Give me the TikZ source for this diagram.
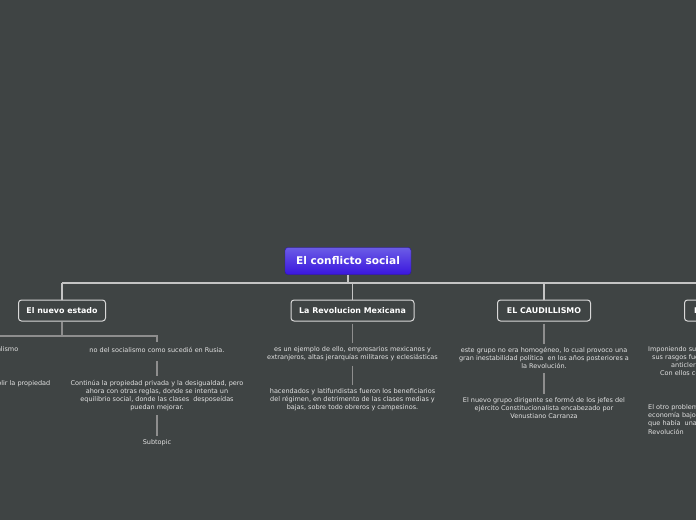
\documentclass[tikz,border=0pt]{standalone}
\usepackage{fontspec}
\setmainfont{DejaVu Sans}
\definecolor{bg}{HTML}{3F4444}
\definecolor{rootA}{HTML}{6B5CE6}
\definecolor{rootB}{HTML}{3A16DE}
\definecolor{mainline}{HTML}{C4C4C4}
\definecolor{subline}{HTML}{8E8E8E}
\definecolor{boxline}{HTML}{D8D8D8}
\definecolor{txt}{HTML}{E2E2E2}
\tikzset{
  rootbox/.style={rectangle, rounded corners=3pt, top color=rootA, bottom color=rootB, draw=rootB!80!black, line width=0.4pt,
    minimum width=126, minimum height=27, text=white, font=\fontsize{10.6}{12}\selectfont\bfseries, inner sep=0pt},
  topicbox/.style={rectangle, rounded corners=3pt, fill=bg, draw=boxline, line width=1pt,
    minimum height=21, text=white, font=\fontsize{7.9}{9}\selectfont\bfseries, inner sep=0pt},
  subtext/.style={align=center, text=txt, font=\fontsize{6.5}{8}\selectfont, inner sep=2pt},
  lefttext/.style={align=left, text=txt, font=\fontsize{6.5}{8}\selectfont, inner sep=0pt},
  mainconn/.style={draw=mainline, line width=1.5pt},
  subconn/.style={draw=subline, line width=1.4pt},
}
\begin{document}
\begin{tikzpicture}[x=1pt,y=-1pt]
\useasboundingbox (0,0) rectangle (696,520);
\fill[bg] (0,0) rectangle (696,520);
\clip (0,0) rectangle (696,520);

% root and main topics
\node[rootbox] (root) at (348,261) {El conflicto social};
\node[topicbox, minimum width=87] (n1) at (62,310.5) {El nuevo estado};
\node[topicbox, minimum width=123] (n2) at (352.5,310.5) {La Revolucion Mexicana};
\node[topicbox, minimum width=93] (n3) at (544,310.5) {EL CAUDILLISMO};
\node[topicbox, minimum width=110, anchor=west, text width=100, align=left] (n4) at (684,310.5) {\hspace*{4.5pt}El Estado};

\coordinate (hub) at (348,283);
\coordinate (h1) at (62,283);
\coordinate (h2) at (352.5,283);
\coordinate (h3) at (544,283);
\coordinate (hr) at (700,283);
\draw[mainconn] (root.south) -- (hub);
\draw[mainconn] (h1) -- (hr);
\draw[mainconn] (h1) -- (n1.north);
\draw[mainconn] (h2) -- (n2.north);
\draw[mainconn] (h3) -- (n3.north);

% El nuevo estado
\node[subtext, anchor=east, inner sep=0pt] (t11) at (18.5,350) {capitalismo};
\node[subtext, anchor=east, inner sep=0pt] (t11b) at (50.5,383.7) {abolir la propiedad};
\node[subtext] (t12) at (157,350) {no del socialismo como sucedió en Rusia.};
\node[subtext] (t13) at (157,396) {Continúa la propiedad privada y la desigualdad, pero\\ahora con otras reglas, donde se intenta un\\equilibrio social, donde las clases~ desposeídas\\puedan mejorar.};
\node[subtext] (t14) at (157,442.3) {Subtopic};
\coordinate (b1) at (62,336);
\coordinate (bl) at (-5,336);
\coordinate (br) at (157,336);
\draw[subconn] (n1.south) -- (b1);
\draw[subconn] (bl) -- (br) -- ([yshift=-6pt]br);
\draw[subconn] ([yshift=-6pt]t12.south) -- ([yshift=3pt]t13.north);
\draw[subconn] ([yshift=-2pt]t13.south) -- ([yshift=1pt]t14.north);

% La Revolucion Mexicana
\node[subtext] (t21) at (352.5,353.3) {es un ejemplo de ello, empresarios mexicanos y\\extranjeros, altas jerarquías militares y eclesiásticas};
\node[subtext] (t22) at (352.5,399.3) {hacendados y latifundistas fueron los beneficiarios\\del régimen, en detrimento de las clases medias y\\bajas, sobre todo obreros y campesinos.};
\draw[subconn] ([yshift=-2pt]n2.south) -- ([yshift=1pt]t21.north);
\draw[subconn] ([yshift=-3pt]t21.south) -- ([yshift=1pt]t22.north);

% EL CAUDILLISMO
\node[subtext] (t31) at (544,357.5) {este grupo no era homogéneo, lo cual provoco una\\gran inestabilidad política~ en los años posteriores a\\la Revolución.};
\node[subtext] (t32) at (544,407.7) {El nuevo grupo dirigente se formó de los jefes del\\ejército Constitucionalista encabezado por\\Venustiano Carranza};
\draw[subconn] ([yshift=-2pt]n3.south) -- ([yshift=1pt]t31.north);
\draw[subconn] ([yshift=-3pt]t31.south) -- ([yshift=1pt]t32.north);

% fourth topic (cut off at the right edge)
\node[lefttext, anchor=west] (t41a) at (648,349.3) {Imponiendo sus};
\node[lefttext, anchor=west] (t41b) at (652,357.3) {sus rasgos fueron};
\node[lefttext, anchor=west] (t41c) at (671,365.3) {anticlericales};
\node[lefttext, anchor=west] (t41d) at (660,373.3) {Con ellos comenzó};
\node[lefttext, anchor=west] (t42a) at (648,408) {El otro problema};
\node[lefttext, anchor=west] (t42b) at (648,416) {economía bajo};
\node[lefttext, anchor=west] (t42c) at (648,424) {que había~ una};
\node[lefttext, anchor=west] (t42d) at (648,432) {Revolución};
\end{tikzpicture}
\end{document}
